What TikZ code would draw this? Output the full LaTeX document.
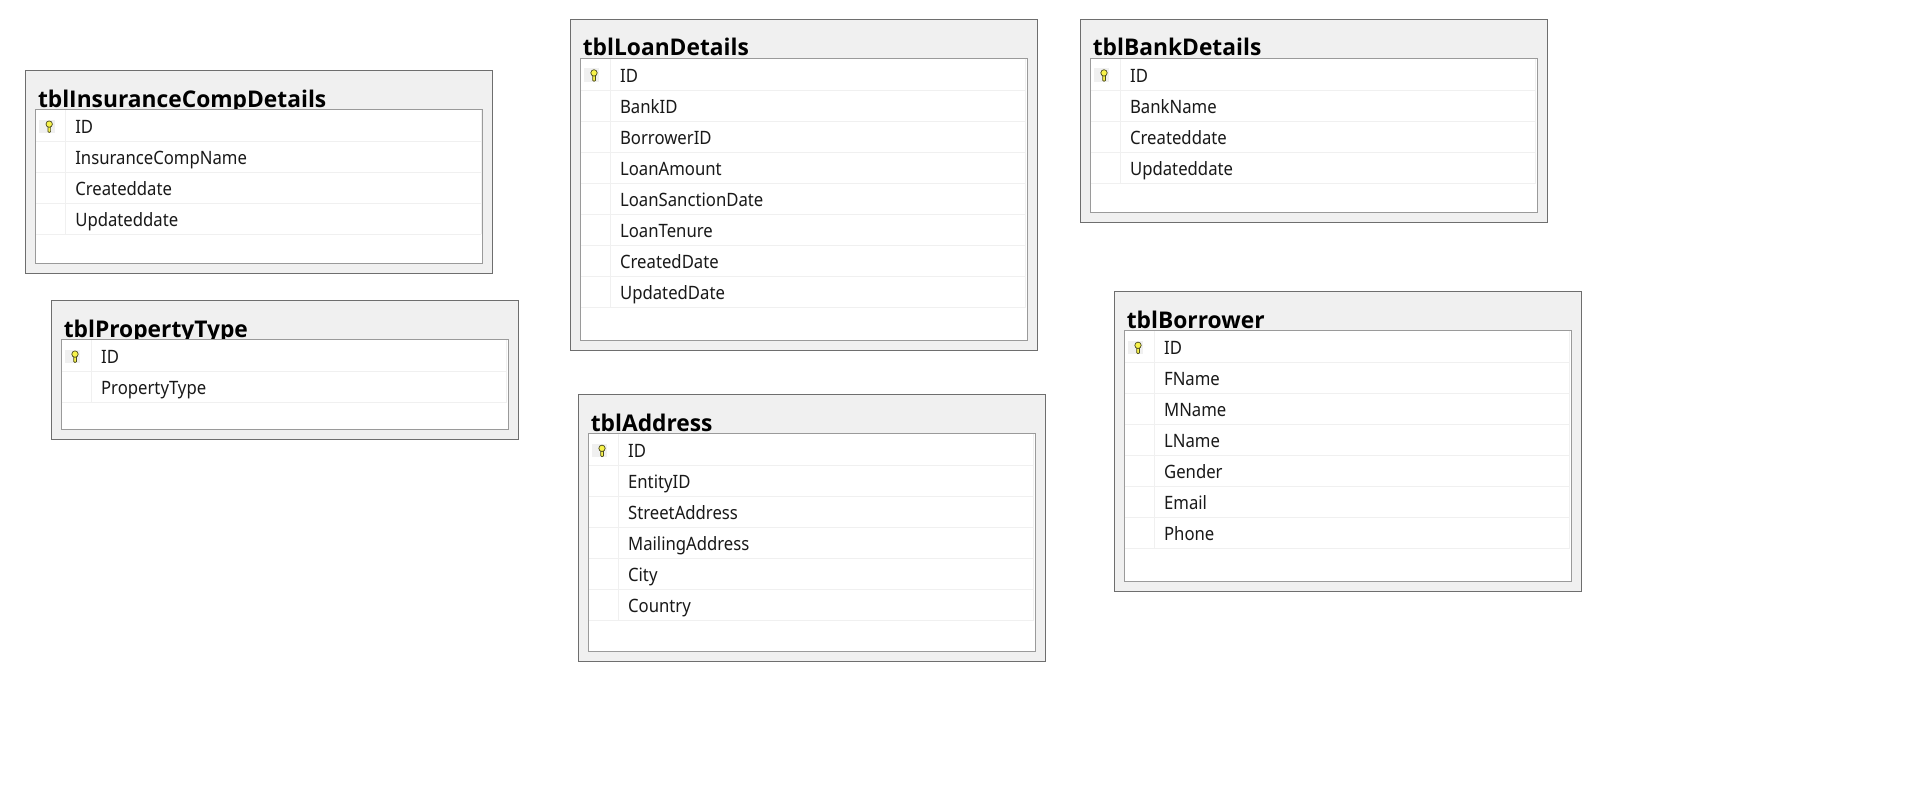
\documentclass[tikz,border=0pt]{standalone}
\usepackage{fontspec}
\setmainfont[FakeStretch=0.908]{Noto Sans}
\newfontfamily\headfont[FakeStretch=0.99]{Open Sans}
\definecolor{framegray}{HTML}{6E6E6E}
\definecolor{panelgray}{HTML}{F0F0F0}
\definecolor{innergray}{HTML}{9A9A9A}
\definecolor{rowgray}{HTML}{F0F0F0}
\definecolor{keyyellow}{HTML}{F7F24A}
\definecolor{keyline}{HTML}{4A4A20}
\tikzset{
  tblouter/.style={draw=framegray, fill=panelgray, line width=1.1pt, anchor=north west, inner sep=0pt, outer sep=0pt, minimum width=467.4pt},
  tblinner/.style={draw=innergray, fill=white, line width=1.1pt, anchor=north west, inner sep=0pt, outer sep=0pt, minimum width=447.4pt},
  tbltitle/.style={anchor=base west, inner sep=0pt, font=\fontsize{23}{26}\selectfont\headfont\bfseries},
  tblfield/.style={anchor=base west, inner sep=0pt, text=black!90, font=\fontsize{18.4}{22}\selectfont},
  rowline/.style={draw=rowgray, line width=0.8pt}
}
% one table: name, x, y, outer height, title, fields
\newcommand{\tbltable}[6]{
  \begin{scope}[shift={(#2,#3)}]
    \node[tblouter, minimum height=#4pt] (#1outer) at (0,0) {};
    \node[tbltitle] (#1title) at (12.3,36.6) {#5};
    \node[tblinner, minimum height=#4pt-49pt] (#1inner) at (10,39) {};
    % Key marker on the first row
    \fill[panelgray] (13.8,49) rectangle (29,62.6);
    \fill[keyyellow, draw=keyline, line width=0.7pt] (25.1,56.2) -- (25.1,61.2) -- (23.7,62) -- (22.4,61) -- (22.4,56.2) -- cycle;
    \filldraw[fill=keyyellow, draw=keyline, line width=0.7pt] (23.7,53.6) circle (3.2);
    % Fields and their row lines
    \foreach \fld [count=\i from 0] in {#6} {
      \pgfmathsetmacro{\rowy}{39.6+31.07*\i}
      \pgfmathsetmacro{\rowend}{\rowy+31.07}
      \node[tblfield] (#1\i) at (49.6,{\rowy+23.2}) {\fld};
      \draw[rowline] (10.6,\rowend) -- (455.4,\rowend);
      \draw[rowline] (40,\rowy) -- (40,\rowend);
      \draw[rowline] (455.4,\rowy) -- (455.4,\rowend);
    }
  \end{scope}
}
\begin{document}
\begin{tikzpicture}[x=1pt,y=-1pt]
  \useasboundingbox (0,0) rectangle (1914,798);
  \tbltable{ins}{25.5}{70.5}{203}{tblInsuranceCompDetails}{ID,InsuranceCompName,Createddate,Updateddate}
  \tbltable{prop}{51.3}{300.5}{139}{tblPropertyType}{ID,PropertyType}
  \tbltable{loan}{570.3}{19.3}{331.4}{tblLoanDetails}{ID,BankID,BorrowerID,LoanAmount,LoanSanctionDate,LoanTenure,CreatedDate,UpdatedDate}
  \tbltable{bank}{1080.3}{19.3}{203}{tblBankDetails}{ID,BankName,Createddate,Updateddate}
  \tbltable{addr}{578.3}{394.7}{266.6}{tblAddress}{ID,EntityID,StreetAddress,MailingAddress,City,Country}
  \tbltable{borr}{1114.3}{291.7}{300}{tblBorrower}{ID,FName,MName,LName,Gender,Email,Phone}
\end{tikzpicture}
\end{document}
